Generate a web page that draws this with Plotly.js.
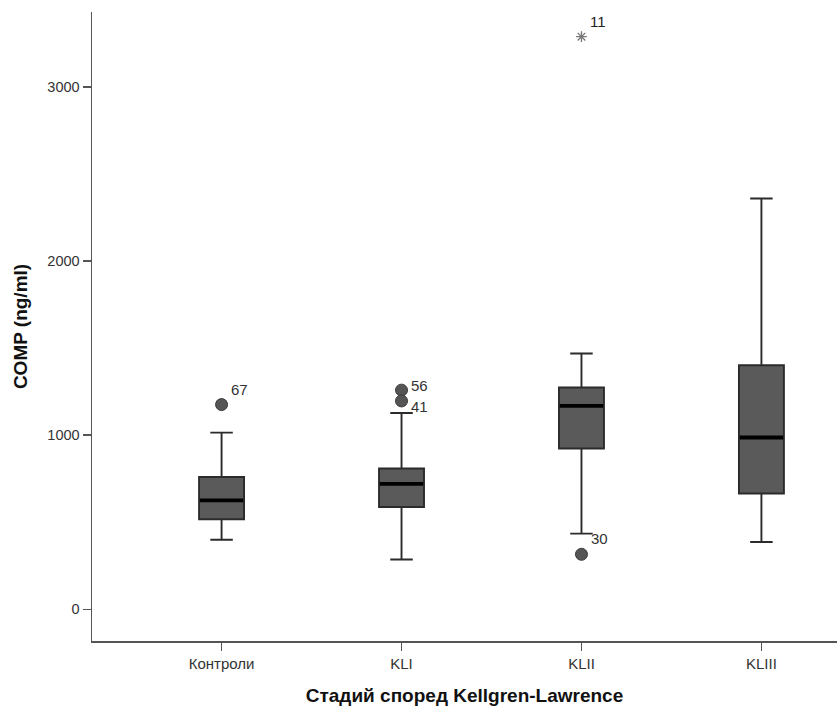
<!DOCTYPE html>
<html><head><meta charset="utf-8">
<script src="https://cdn.plot.ly/plotly-3.0.1.min.js"></script>
<style>html,body{margin:0;padding:0;background:#fff}#chart{width:837px;height:708px}</style>
</head><body><div id="chart"></div><script>
const categories = ['Контроли', 'KLI', 'KLII', 'KLIII'];
const q1 = [517, 588, 924, 665];
const median = [626, 720, 1168, 987];
const q3 = [760, 809, 1274, 1402];
const lowerWhisker = [400, 286, 435, 387];
const upperWhisker = [1015, 1128, 1469, 2360];
const outlierCats = ['Контроли', 'KLI', 'KLI', 'KLII'];
const outlierValues = [1176, 1259, 1197, 316];
const outlierLabels = ['67', '56', '41', '30'];
const extremeCats = ['KLII'];
const extremeValues = [3289];
const extremeLabels = ['11'];

const FONT = 'Arial, "Liberation Sans", sans-serif';
// label offsets (pixels) for each outlier label: [xshift, yshift]
const outlierLabelShift = [[7, 15], [7, 5], [7, -6], [8, 16]];
const extremeLabelShift = [[7, 15]];

const traces = [
  {
    type: 'box', x: categories, q1: q1, median: median, q3: q3,
    lowerfence: lowerWhisker, upperfence: upperWhisker,
    width: 0.25, whiskerwidth: 0.5, boxpoints: false,
    fillcolor: '#5a5a5a', line: {color: '#2b2b2b', width: 1.9},
    hoverinfo: 'skip'
  },
  {
    type: 'scatter', mode: 'markers', x: categories, y: median,
    marker: {symbol: 'line-ew', size: 31, color: '#000', line: {color: '#000', width: 3.8}},
    hoverinfo: 'skip', cliponaxis: false
  },
  {
    type: 'scatter', mode: 'markers', x: outlierCats, y: outlierValues,
    marker: {symbol: 'circle', size: 12, color: '#555555', line: {color: '#3a3a3a', width: 1}},
    hoverinfo: 'skip', cliponaxis: false
  },
  {
    type: 'scatter', mode: 'markers', x: extremeCats, y: extremeValues,
    marker: {symbol: 'asterisk-open', size: 9, color: '#777', line: {color: '#6f6f6f', width: 1.3}},
    hoverinfo: 'skip', cliponaxis: false
  }
];

const annotations = [];
outlierLabels.forEach((t, i) => annotations.push({
  x: outlierCats[i], y: outlierValues[i], text: t, showarrow: false,
  xanchor: 'left', yanchor: 'middle', xshift: outlierLabelShift[i][0], yshift: outlierLabelShift[i][1],
  font: {family: FONT, size: 15, color: '#333'}
}));
extremeLabels.forEach((t, i) => annotations.push({
  x: extremeCats[i], y: extremeValues[i], text: t, showarrow: false,
  xanchor: 'left', yanchor: 'middle', xshift: extremeLabelShift[i][0], yshift: extremeLabelShift[i][1],
  font: {family: FONT, size: 15, color: '#222'}
}));

const layout = {
  width: 837, height: 708,
  margin: {l: 92, r: 0, t: 12, b: 67},
  paper_bgcolor: '#fff', plot_bgcolor: '#fff',
  showlegend: false, hovermode: false,
  font: {family: FONT, color: '#333'},
  annotations: annotations,
  xaxis: {
    type: 'category', range: [-0.72, 3.42],
    showgrid: false, zeroline: false,
    showline: true, linecolor: '#555', linewidth: 1.5,
    ticks: 'outside', ticklen: 8, tickwidth: 1.5, tickcolor: '#555',
    tickfont: {family: FONT, size: 15, color: '#333'},
    title: {text: 'Стадий според Kellgren-Lawrence', font: {family: FONT, size: 19, color: '#111', weight: 'bold'}, standoff: 18}
  },
  yaxis: {
    range: [-182, 3431], tickvals: [0, 1000, 2000, 3000],
    showgrid: false, zeroline: false,
    showline: true, linecolor: '#555', linewidth: 1.5,
    ticks: 'outside', ticklen: 8, tickwidth: 1.5, tickcolor: '#555',
    tickfont: {family: FONT, size: 14.5, color: '#333'},
    title: {text: 'COMP (ng/ml)', font: {family: FONT, size: 19, color: '#111', weight: 'bold'}, standoff: 14}
  }
};

Plotly.newPlot('chart', traces, layout, {displayModeBar: false, staticPlot: true});
</script></body></html>
